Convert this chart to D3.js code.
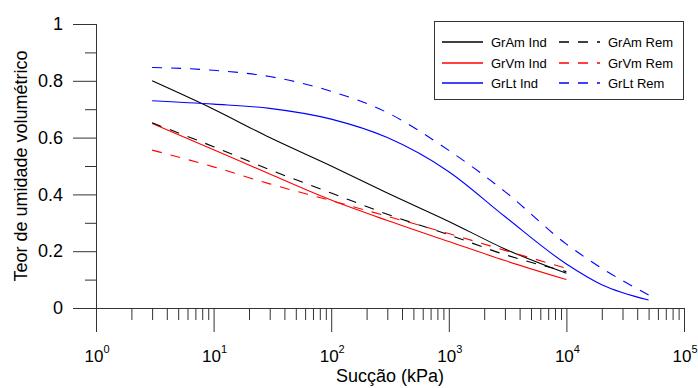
<!DOCTYPE html>
<html>
<head>
<meta charset="utf-8">
<script src="https://cdn.jsdelivr.net/npm/d3@7"></script>
<style>
  html, body { margin: 0; padding: 0; background: #fff; }
  svg { display: block; font-family: "Liberation Sans", Arial, sans-serif; }
</style>
</head>
<body>
<svg id="chart" width="698" height="388"></svg>
<script>
// ---- data ----
const suction = [3, 10, 30, 100, 300, 1000, 3000, 10000];
const suctionLt = [3, 10, 30, 100, 300, 1000, 3000, 10000, 20000, 50000];
const grAmInd = [0.80, 0.70, 0.60, 0.50, 0.405, 0.305, 0.208, 0.122];
const grAmRem = [0.652, 0.568, 0.487, 0.405, 0.33, 0.258, 0.188, 0.128];
const grVmInd = [0.65, 0.557, 0.472, 0.38, 0.308, 0.234, 0.167, 0.10];
const grVmRem = [0.556, 0.497, 0.437, 0.378, 0.323, 0.262, 0.203, 0.14];
const grLtInd = [0.73, 0.718, 0.703, 0.665, 0.60, 0.48, 0.322, 0.155, 0.082, 0.028];
const grLtRem = [0.847, 0.837, 0.815, 0.763, 0.688, 0.555, 0.41, 0.225, 0.14, 0.046];

const seriesNames = ["GrAm Ind", "GrVm Ind", "GrLt Ind", "GrAm Rem", "GrVm Rem", "GrLt Rem"];
const seriesColors = ["#000000", "#ff0000", "#0000ff", "#000000", "#ff0000", "#0000ff"];
const xMajorExp = [0, 1, 2, 3, 4, 5];
const yTicks = [0, 0.2, 0.4, 0.6, 0.8, 1];
const yTickLabels = ["0", "0.2", "0.4", "0.6", "0.8", "1"];
const yMinor = [0.1, 0.3, 0.5, 0.7, 0.9];
const xTitle = "Sucção (kPa)";
const yTitle = "Teor de umidade volumétrico";

// ---- layout ----
const svg = d3.select("#chart");
const x = d3.scaleLog().domain([1, 1e5]).range([96, 684]);
const y = d3.scaleLinear().domain([0, 1]).range([308, 24]);
const axisColor = "#333";
const dashPattern = "10,9";

const seriesValues = [grAmInd, grVmInd, grLtInd, grAmRem, grVmRem, grLtRem];
const seriesX = [suction, suction, suctionLt, suction, suction, suctionLt];
const series = seriesNames.map((name, i) => ({
  name: name,
  xs: seriesX[i],
  ys: seriesValues[i],
  color: seriesColors[i],
  dash: i >= 3 ? dashPattern : null
}));

// ---- axes ----
const xMajors = xMajorExp.map(e => Math.pow(10, e));
const xMinors = [];
for (let e = 0; e < 5; e++) for (let k = 2; k <= 9; k++) xMinors.push(k * Math.pow(10, e));

const gx = svg.append("g").attr("transform", `translate(0,${y(0)})`);
gx.call(d3.axisBottom(x).tickValues(xMajors).tickSize(24).tickFormat(""));
const gxm = svg.append("g").attr("transform", `translate(0,${y(0)})`);
gxm.call(d3.axisBottom(x).tickValues(xMinors).tickSize(12).tickFormat(""));
gxm.select(".domain").remove();

const gy = svg.append("g").attr("transform", `translate(${x(1)},0)`);
gy.call(d3.axisLeft(y).tickValues(yTicks).tickSize(23).tickPadding(10)
  .tickFormat((d, i) => yTickLabels[i]));
const gym = svg.append("g").attr("transform", `translate(${x(1)},0)`);
gym.call(d3.axisLeft(y).tickValues(yMinor).tickSize(11).tickFormat(""));
gym.select(".domain").remove();

[gx, gxm, gy, gym].forEach(g => {
  g.selectAll("path.domain").attr("stroke", axisColor);
  g.selectAll(".tick line").attr("stroke", axisColor);
});
gy.select(".domain").remove();
svg.append("line")
  .attr("x1", x(1) + 0.5).attr("x2", x(1) + 0.5)
  .attr("y1", y(1)).attr("y2", y(0) + 24)
  .attr("stroke", axisColor);
gy.selectAll(".tick text")
  .attr("font-size", 18).attr("fill", "#000")
  .attr("font-family", "'Liberation Sans', Arial, sans-serif");

// x tick labels 10^n
const xl = svg.append("g");
xMajorExp.forEach(e => {
  const t = xl.append("text")
    .attr("x", x(Math.pow(10, e)) + 1)
    .attr("y", 362)
    .attr("text-anchor", "middle")
    .attr("font-size", 17)
    .attr("fill", "#000");
  t.append("tspan").text("10");
  t.append("tspan").attr("dy", -9).attr("font-size", 11).text(String(e));
});

// titles
svg.append("text")
  .attr("x", (x.range()[0] + x.range()[1]) / 2)
  .attr("y", 382)
  .attr("text-anchor", "middle")
  .attr("font-size", 18)
  .attr("fill", "#000")
  .text(xTitle);
svg.append("text")
  .attr("transform", `translate(27,${(y(0) + y(1)) / 2}) rotate(-90)`)
  .attr("text-anchor", "middle")
  .attr("font-size", 18)
  .attr("fill", "#000")
  .text(yTitle);

// ---- lines ----
const line = d3.line()
  .x(d => x(d[0]))
  .y(d => y(d[1]))
  .curve(d3.curveMonotoneX);

series.forEach(s => {
  const pts = s.xs.map((v, i) => [v, s.ys[i]]);
  const p = svg.append("path")
    .datum(pts)
    .attr("d", line)
    .attr("fill", "none")
    .attr("stroke", s.color)
    .attr("stroke-width", 1.1);
  if (s.dash) p.attr("stroke-dasharray", s.dash);
});

// ---- legend ----
const lg = svg.append("g");
lg.append("rect")
  .attr("x", 434.5).attr("y", 21.5).attr("width", 249).attr("height", 78)
  .attr("fill", "#fff").attr("stroke", axisColor);
const rowsY = [42, 63, 83];
const legendItems = lg.selectAll("g.item")
  .data(series)
  .join("g")
  .attr("class", "item")
  .attr("transform", (s, i) => {
    const col = Math.floor(i / 3), row = i % 3;
    return `translate(${col === 0 ? 442 : 559},${rowsY[row]})`;
  });
legendItems.append("path")
  .attr("d", "M0,0H41")
  .attr("fill", "none")
  .attr("stroke", s => s.color)
  .attr("stroke-width", 1.3)
  .attr("stroke-dasharray", s => s.dash ? s.dash : "none");
legendItems.append("text")
  .attr("x", 49).attr("y", 5)
  .attr("font-size", 13).attr("fill", "#000")
  .text(s => s.name);
</script>
</body>
</html>
